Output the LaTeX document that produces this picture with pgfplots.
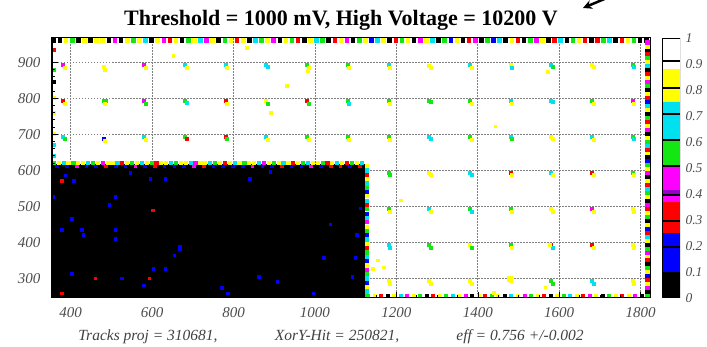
\documentclass[border=0pt]{standalone}
\usepackage{pgfplots}
\pgfplotsset{compat=1.18}
\usepackage{fontspec}
\setmainfont{Liberation Serif}
\usetikzlibrary{arrows.meta}
\definecolor{cY}{RGB}{255,255,0}
\definecolor{cG}{RGB}{20,230,20}
\definecolor{cC}{RGB}{0,225,240}
\definecolor{cM}{RGB}{255,0,255}
\definecolor{cR}{RGB}{255,0,0}
\definecolor{cB}{RGB}{0,0,255}
\definecolor{cP}{RGB}{150,0,200}
\pgfplotsset{dots/.style={scatter, only marks, scatter src=explicit symbolic, mark=square*,
  scatter/classes={k={draw=black,fill=black}, b={draw=cB,fill=cB}, r={draw=cR,fill=cR},
  m={draw=cM,fill=cM}, g={draw=cG,fill=cG}, c={draw=cC,fill=cC}, y={draw=cY,fill=cY}}}}
\begin{document}
\begin{tikzpicture}[x=1pt,y=1pt]
\useasboundingbox (-52pt,-49pt) rectangle (655pt,298pt);
\begin{axis}[
 at={(0pt,0pt)}, anchor=south west,
 scale only axis, width=598pt, height=260pt,
 xmin=354, xmax=1823, ymin=245, ymax=967,
 xtick={400,600,800,1000,1200,1400,1600,1800}, ytick={300,400,500,600,700,800,900},
 /pgf/number format/1000 sep={},
 xticklabel={\itshape\pgfmathprintnumber[assume math mode=true]{\tick}},
 yticklabel={\itshape\pgfmathprintnumber[assume math mode=true]{\tick}},
 minor x tick num=3, minor y tick num=4,
 xtick pos=left, ytick pos=left,
 major tick length=6pt, minor tick length=3pt,
 tick style={black, line width=0.6pt},
 grid=major, major grid style={gray, dash pattern=on 1.5pt off 1.5pt, line width=0.7pt},
 axis line style={line width=1pt},
 xticklabel style={font=\itshape\fontsize{15}{15}\selectfont, text=black!70, yshift=-6pt},
 yticklabel style={font=\itshape\fontsize{15}{15}\selectfont, text=black!70, xshift=-8pt},
]
\addplot[fill=black, draw=none] coordinates {(354,245) (1123,245) (1123,617) (354,617)} -- cycle;
% dots inside black region
\addplot[dots, mark size=1.3pt] table[x=x,y=y,meta=c]{
x y c
386 586 b
378 570 r
407 570 b
357 526 b
402 465 b
378 434 b
427 434 b
431 420 b
509 526 b
495 504 b
601 489 r
509 434 b
509 410 b
668 387 b
668 381 b
654 364 b
632 327 b
603 327 b
402 313 b
460 300 r
525 300 b
593 300 r
579 281 b
378 258 r
771 274 b
785 258 b
862 304 b
907 290 b
840 577 b
890 596 b
1037 450 b
1022 357 b
1099 357 b
1091 304 b
996 258 b
1111 494 b
1103 420 b
595 577 b
632 577 b
546 593 b
};
% row just below top edge of black region
\addplot[dots, mark size=1.3pt] table[x=x,y=y,meta=c]{
x y c
366 611 b
390 611 b
414 611 m
438 611 b
462 611 b
486 611 r
510 611 b
534 611 b
558 611 m
582 611 b
606 611 r
630 611 b
654 611 b
678 611 b
702 611 m
726 611 r
750 611 b
774 611 b
798 611 b
822 611 b
846 611 m
870 611 b
894 611 b
918 611 r
942 611 b
966 611 b
990 611 m
1014 611 b
1038 611 r
1062 611 r
1086 611 b
1110 611 r
};
% top edge of black region
\addplot[dots, mark size=1.6pt] table[x=x,y=y,meta=c]{
x y c
358 621 g
370 621 y
382 621 c
394 621 y
406 621 g
418 621 y
430 621 y
442 621 c
454 621 g
466 621 y
478 621 m
490 621 y
502 621 y
514 621 c
526 621 r
538 621 y
550 621 g
562 621 y
574 621 c
586 621 y
598 621 g
610 621 r
622 621 y
634 621 y
646 621 c
658 621 g
670 621 y
682 621 y
694 621 c
706 621 m
718 621 y
730 621 y
742 621 c
754 621 g
766 621 y
778 621 r
790 621 y
802 621 c
814 621 y
826 621 g
838 621 y
850 621 y
862 621 c
874 621 m
886 621 y
898 621 g
910 621 y
922 621 c
934 621 y
946 621 r
958 621 y
970 621 g
982 621 c
994 621 y
1006 621 y
1018 621 g
1030 621 r
1042 621 y
1054 621 c
1066 621 y
1078 621 r
1090 621 g
1102 621 y
1114 621 c
};
% right edge of black region
\addplot[dots, mark size=1.6pt] table[x=x,y=y,meta=c]{
x y c
1127 252 g
1127 264 c
1127 276 y
1127 288 b
1127 300 c
1127 312 g
1127 324 m
1127 336 y
1127 348 b
1127 360 c
1127 372 g
1127 384 r
1127 396 y
1127 408 c
1127 420 b
1127 432 g
1127 444 y
1127 456 m
1127 468 c
1127 480 b
1127 492 g
1127 504 r
1127 516 c
1127 528 y
1127 540 b
1127 552 g
1127 564 c
1127 576 y
1127 588 r
1127 600 c
1127 612 y
};
% top edge of frame
\addplot[dots, mark size=1.8pt] table[x=x,y=y,meta=c]{
x y c
358 961 k
373 961 k
388 961 y
403 961 g
418 961 k
433 961 y
448 961 k
463 961 y
478 961 y
493 961 k
508 961 m
523 961 k
538 961 y
553 961 g
568 961 y
583 961 c
598 961 k
613 961 y
628 961 m
643 961 r
658 961 y
673 961 k
688 961 g
703 961 y
718 961 c
733 961 m
748 961 y
763 961 k
778 961 g
793 961 y
808 961 r
823 961 y
838 961 k
853 961 c
868 961 g
883 961 y
898 961 m
913 961 k
928 961 y
943 961 g
958 961 r
973 961 k
988 961 y
1003 961 c
1018 961 g
1033 961 k
1048 961 r
1063 961 y
1078 961 m
1093 961 k
1108 961 g
1123 961 y
1138 961 b
1153 961 c
1168 961 y
1183 961 k
1198 961 r
1213 961 g
1228 961 y
1243 961 k
1258 961 m
1273 961 y
1288 961 c
1303 961 k
1318 961 g
1333 961 b
1348 961 y
1363 961 k
1378 961 r
1393 961 m
1408 961 k
1423 961 g
1438 961 b
1453 961 c
1468 961 k
1483 961 y
1498 961 r
1513 961 k
1528 961 g
1543 961 m
1558 961 y
1573 961 k
1588 961 r
1603 961 c
1618 961 k
1633 961 g
1648 961 y
1663 961 r
1678 961 k
1693 961 r
1708 961 g
1723 961 c
1738 961 k
1753 961 r
1768 961 y
1783 961 g
1798 961 k
1813 961 k
};
% right edge of frame
\addplot[dots, mark size=1.8pt] table[x=x,y=y,meta=c]{
x y c
1816 252 g
1816 263 k
1816 274 m
1816 285 y
1816 296 r
1816 307 b
1816 318 y
1816 329 g
1816 340 k
1816 351 r
1816 362 y
1816 373 m
1816 384 g
1816 395 k
1816 406 y
1816 417 c
1816 428 r
1816 439 b
1816 450 y
1816 461 k
1816 472 g
1816 483 y
1816 494 r
1816 505 m
1816 516 k
1816 527 y
1816 538 g
1816 549 c
1816 560 r
1816 571 y
1816 582 k
1816 593 m
1816 604 y
1816 615 g
1816 626 b
1816 637 k
1816 648 y
1816 659 r
1816 670 c
1816 681 g
1816 692 y
1816 703 k
1816 714 m
1816 725 y
1816 736 r
1816 747 g
1816 758 k
1816 769 y
1816 780 c
1816 791 b
1816 802 r
1816 813 y
1816 824 k
1816 835 g
1816 846 m
1816 857 y
1816 868 r
1816 879 k
1816 890 c
1816 901 y
1816 912 g
1816 923 r
1816 934 k
1816 945 y
1816 956 m
};
% bottom edge (white part) and left edge
\addplot[dots, mark size=1.5pt] table[x=x,y=y,meta=c]{
x y c
1130 250 g
1146 250 y
1162 250 r
1178 250 k
1194 250 y
1210 250 c
1226 250 m
1242 250 y
1258 250 g
1274 250 k
1290 250 r
1306 250 y
1322 250 g
1338 250 c
1354 250 y
1370 250 m
1386 250 k
1402 250 y
1418 250 r
1434 250 g
1450 250 y
1466 250 k
1482 250 c
1498 250 y
1514 250 m
1530 250 g
1546 250 y
1562 250 r
1578 250 k
1594 250 y
1610 250 g
1626 250 c
1642 250 y
1658 250 r
1674 250 m
1690 250 y
1706 250 k
1722 250 g
1738 250 y
1754 250 r
1770 250 y
1786 250 m
1802 250 k
357 935 r
357 880 g
357 845 k
357 800 y
357 760 y
357 700 y
357 672 c
357 640 c
};
% stray points in the white region
\addplot[dots, mark size=1.3pt] table[x=x,y=y,meta=c]{
x y c
652 918 y
833 940 y
931 834 y
891 759 y
1571 873 y
1443 722 y
1210 517 y
1154 350 y
1169 331 y
1142 326 y
1439 259 y
1481 302 y
1475 294 y
1566 275 y
};
% clusters at the grid crossings
\addplot[dots, mark size=1.5pt] table[x=x,y=y,meta=c]{
x y c
380 892 m
384 884 y
480 888 y
484 880 y
580 892 m
584 884 y
680 892 c
684 884 y
780 892 c
784 884 y
880 892 c
884 886 c
980 892 g
984 884 y
982 876 y
1080 892 g
1084 884 y
1180 892 c
1184 884 y
1280 890 y
1284 884 y
1380 892 c
1384 884 y
1480 892 y
1484 884 c
1580 892 c
1584 886 g
1680 892 y
1684 886 y
1780 892 g
1784 886 c
380 792 r
384 784 y
480 792 g
486 792 g
484 784 y
580 792 m
584 784 g
680 792 g
684 786 c
780 792 r
784 784 y
880 792 y
884 784 g
980 792 r
984 784 g
1080 792 g
1084 784 c
1180 792 g
1184 784 y
1280 792 g
1285 790 g
1380 792 g
1384 784 y
1480 792 c
1484 784 y
1580 792 c
1585 790 c
1680 792 g
1684 784 y
1780 792 m
1784 784 y
380 692 c
384 686 g
480 688 b
484 682 y
580 692 c
584 684 y
680 692 g
684 686 r
780 692 r
784 686 g
880 692 c
884 684 y
980 692 g
984 684 y
1080 692 g
1084 684 y
1180 692 g
1184 684 y
1280 692 c
1284 686 c
1380 692 g
1384 684 y
1480 692 c
1484 686 g
1580 692 y
1584 686 y
1680 692 c
1684 684 y
1780 692 g
1784 686 c
1180 592 g
1184 586 g
1280 592 y
1284 586 y
1380 592 c
1384 586 c
1480 592 r
1484 586 y
1580 592 c
1584 586 y
1680 592 r
1684 586 y
1780 592 g
1784 586 y
1180 492 g
1184 486 y
1280 492 c
1284 486 y
1380 492 g
1384 486 c
1480 492 g
1484 486 y
1580 492 y
1584 486 y
1680 492 m
1684 486 y
1780 492 y
1784 486 y
1180 392 c
1184 386 c
1280 392 g
1284 386 g
1380 392 y
1384 386 g
1480 392 g
1484 386 y
1580 392 r
1584 386 c
1576 392 y
1680 392 r
1684 384 y
1780 392 y
1784 384 y
1180 292 y
1184 286 y
1280 292 y
1284 286 y
1380 292 y
1384 286 y
1480 292 y
1476 300 y
1580 292 g
1584 286 g
1680 292 c
1684 286 c
1780 292 y
1784 286 y
};
\end{axis}
% frame and ticks drawn again on top
\begin{axis}[
 at={(0pt,0pt)}, anchor=south west,
 scale only axis, width=598pt, height=260pt,
 xmin=354, xmax=1823, ymin=245, ymax=967,
 xtick={400,600,800,1000,1200,1400,1600,1800}, ytick={300,400,500,600,700,800,900},
 minor x tick num=3, minor y tick num=4,
 xtick pos=left, ytick pos=left,
 major tick length=6pt, minor tick length=3pt,
 tick style={black, line width=0.6pt},
 xticklabels={}, yticklabels={},
 axis line style={line width=1pt},
]
\end{axis}
% colour scale
\begin{axis}[
 at={(610pt,0pt)}, anchor=south west,
 scale only axis, width=18pt, height=260pt,
 xmin=0, xmax=1, ymin=0, ymax=1,
 xtick=\empty,
 ytick={0,0.1,0.2,0.3,0.4,0.5,0.6,0.7,0.8,0.9,1},
 yticklabels={0,0.1,0.2,0.3,0.4,0.5,0.6,0.7,0.8,0.9,1},
 yticklabel pos=right, ytick style={draw=none},
 yticklabel style={font=\itshape\fontsize{13.5}{14}\selectfont, text=black!70, xshift=2pt},
 axis line style={draw=none},
]
\addplot[fill=cY, draw=none] coordinates {(0,0.81) (1,0.81) (1,0.88) (0,0.88)} -- cycle;
\addplot[fill=cY, draw=none] coordinates {(0,0.755) (1,0.755) (1,0.805) (0,0.805)} -- cycle;
\addplot[fill=cC, draw=none] coordinates {(0,0.71) (1,0.71) (1,0.755) (0,0.755)} -- cycle;
\addplot[fill=cC, draw=none] coordinates {(0,0.61) (1,0.61) (1,0.705) (0,0.705)} -- cycle;
\addplot[fill=cG, draw=none] coordinates {(0,0.51) (1,0.51) (1,0.605) (0,0.605)} -- cycle;
\addplot[fill=cM, draw=none] coordinates {(0,0.415) (1,0.415) (1,0.505) (0,0.505)} -- cycle;
\addplot[fill=cP, draw=none] coordinates {(0,0.40) (1,0.40) (1,0.415) (0,0.415)} -- cycle;
\addplot[fill=cR, draw=none] coordinates {(0,0.30) (1,0.30) (1,0.37) (0,0.37)} -- cycle;
\addplot[fill=cM, draw=none] coordinates {(0,0.37) (1,0.37) (1,0.395) (0,0.395)} -- cycle;
\addplot[fill=cR, draw=none] coordinates {(0,0.25) (1,0.25) (1,0.295) (0,0.295)} -- cycle;
\addplot[fill=cB, draw=none] coordinates {(0,0.20) (1,0.20) (1,0.25) (0,0.25)} -- cycle;
\addplot[fill=cB, draw=none] coordinates {(0,0.10) (1,0.10) (1,0.195) (0,0.195)} -- cycle;
\addplot[fill=black, draw=none] coordinates {(0,0) (1,0) (1,0.095) (0,0.095)} -- cycle;
\addplot[draw=black, line width=0.9pt] coordinates {(0,0.912) (1,0.912) (1,1) (0,1)} -- cycle;
\addplot[draw=black, line width=0.9pt] coordinates {(0,0.81) (1,0.81) (1,0.908) (0,0.908)} -- cycle;
\addplot[draw=black, line width=0.9pt] coordinates {(0,0.71) (1,0.71) (1,0.806) (0,0.806)} -- cycle;
\addplot[draw=black, line width=0.9pt] coordinates {(0,0.61) (1,0.61) (1,0.706) (0,0.706)} -- cycle;
\addplot[draw=black, line width=0.9pt] coordinates {(0,0.51) (1,0.51) (1,0.606) (0,0.606)} -- cycle;
\addplot[draw=black, line width=0.9pt] coordinates {(0,0.40) (1,0.40) (1,0.506) (0,0.506)} -- cycle;
\addplot[draw=black, line width=0.9pt] coordinates {(0,0.30) (1,0.30) (1,0.396) (0,0.396)} -- cycle;
\addplot[draw=black, line width=0.9pt] coordinates {(0,0.20) (1,0.20) (1,0.296) (0,0.296)} -- cycle;
\addplot[draw=black, line width=0.9pt] coordinates {(0,0.10) (1,0.10) (1,0.196) (0,0.196)} -- cycle;
\addplot[draw=black, line width=0.9pt] coordinates {(0,0) (1,0) (1,0.096) (0,0.096)} -- cycle;
\end{axis}
\node[anchor=base, font=\bfseries\fontsize{22}{22}\selectfont] at (289pt,272pt) {Threshold = 1000 mV, High Voltage = 10200 V};
\node[anchor=base, font=\itshape\fontsize{15.5}{15.5}\selectfont, text=black!75] at (96pt,-43pt) {Tracks proj = 310681,};
\node[anchor=base, font=\itshape\fontsize{15.5}{15.5}\selectfont, text=black!75] at (285pt,-43pt) {XorY-Hit = 250821,};
\node[anchor=base, font=\itshape\fontsize{15.5}{15.5}\selectfont, text=black!75] at (468pt,-43pt) {eff = 0.756 +/-0.002};
\draw[line width=2.5pt, -{Stealth[length=9pt,width=9pt]}] (562pt,303pt) -- (531pt,290pt);
\end{tikzpicture}
\end{document}
